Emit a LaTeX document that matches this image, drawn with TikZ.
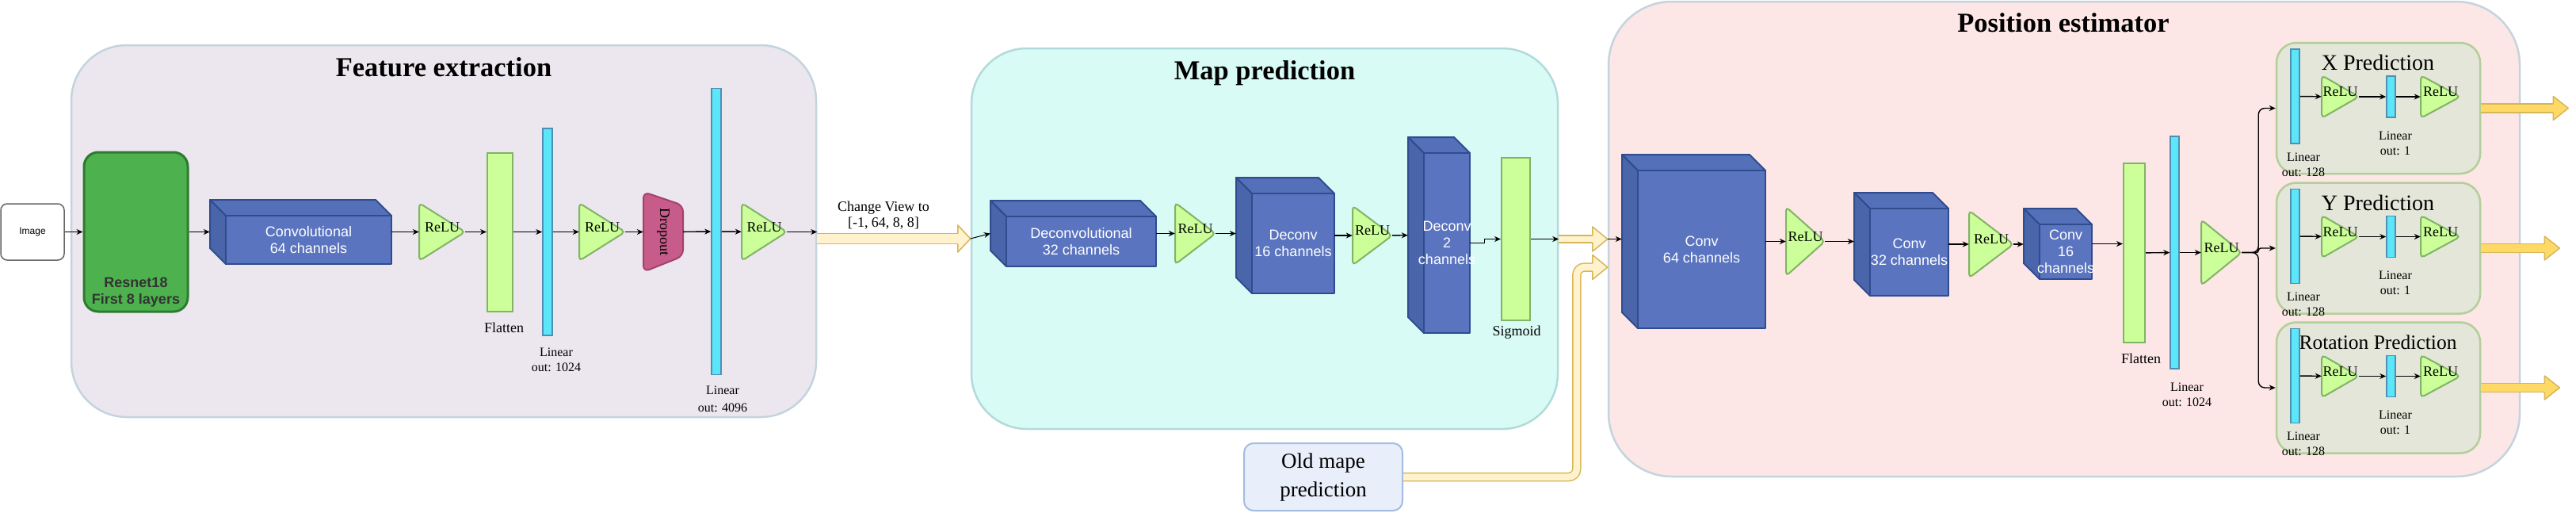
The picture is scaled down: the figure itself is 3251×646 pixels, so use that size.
\documentclass[tikz,border=0pt]{standalone}
\usepackage{fontspec}
\setmainfont{Liberation Serif}
\setsansfont{Liberation Sans}
\usetikzlibrary{arrows.meta,calc,fit}

\definecolor{featfill}{HTML}{ECE7EE}
\definecolor{mapfill}{HTML}{D9FBF5}
\definecolor{posfill}{HTML}{FDE6E6}
\definecolor{panelline}{HTML}{C4D4DE}
\definecolor{mapline}{HTML}{B3DADB}
\definecolor{cubefront}{HTML}{5A74BF}
\definecolor{cubetop}{HTML}{5470B8}
\definecolor{cubeside}{HTML}{4B65AB}
\definecolor{cubeline}{HTML}{2F4C8F}
\definecolor{relufill}{HTML}{CCFF99}
\definecolor{reluline}{HTML}{82B366}
\definecolor{linfill}{HTML}{5CE6FA}
\definecolor{linline}{HTML}{4F8FB3}
\definecolor{dropfill}{HTML}{C75C8A}
\definecolor{dropline}{HTML}{A3416E}
\definecolor{resfill}{HTML}{4DB24E}
\definecolor{resline}{HTML}{2D7A30}
\definecolor{reslabel}{HTML}{333333}
\definecolor{predfill}{HTML}{E4E6D9}
\definecolor{predline}{HTML}{B3CF99}
\definecolor{oldfill}{HTML}{E8EFFA}
\definecolor{oldline}{HTML}{A3BCDF}
\definecolor{fatpale}{HTML}{FFF2CC}
\definecolor{fatgold}{HTML}{FFD966}
\definecolor{fatline}{HTML}{D6B656}

\tikzset{
  panel/.style={draw=panelline, line width=2.5pt, rounded corners=70pt, inner sep=0pt},
  title/.style={font=\bfseries\fontsize{34.5}{40}\selectfont, anchor=base},
  arr/.style={-{Stealth[length=8pt,width=7pt]}, line width=1.4pt},
  cubeface/.style={draw=cubeline, line width=2pt, line join=round},
  cubetext/.style={font=\sffamily\fontsize{18}{21}\selectfont, text=white, align=center},
  reluface/.style={draw=reluline, fill=relufill, line width=2pt, rounded corners=5pt},
  relutext/.style={font=\fontsize{18}{20}\selectfont},
  lbl/.style={font=\fontsize{16}{19}\selectfont, align=center},
  biglbl/.style={font=\fontsize{18}{20}\selectfont, align=center},
  flatbar/.style={draw=reluline, fill=relufill, line width=2pt, inner sep=0pt},
  linbar/.style={draw=linline, fill=linfill, line width=1.5pt, inner sep=0pt},
  predbox/.style={draw=predline, fill=predfill, line width=2.5pt, rounded corners=25pt,
    minimum width=257pt, minimum height=165pt},
  fatshaft/.style={draw=fatline, double=#1, line width=1.5pt},
}

% cuboid layer: name, left, top, right, bottom, text
\newcommand{\convcube}[6]{%
  \filldraw[cubeface, fill=cubetop] (#2,#3) -- ({#4-20},#3) -- (#4,{#3+20}) -- ({#2+20},{#3+20}) -- cycle;
  \filldraw[cubeface, fill=cubeside] (#2,#3) -- ({#2+20},{#3+20}) -- ({#2+20},#5) -- (#2,{#5-20}) -- cycle;
  \filldraw[cubeface, fill=cubefront] ({#2+20},{#3+20}) rectangle (#4,#5);
  \node[inner sep=0pt, fit={(#2,#3) (#4,#5)}] (#1) {};
  \node[cubetext] at ({(#2+#4+20)/2},{(#3+#5+20)/2}) {#6};}

% relu: name, left x, centre y, width, half height
\newcommand{\relu}[5]{%
  \draw[reluface] (#2,{#3-#5}) -- ({#2+#4},#3) -- (#2,{#3+#5}) -- cycle;
  \node[relutext, inner sep=0pt, fit={(#2,{#3-#5}) ({#2+#4},{#3+#5})}] (#1) {ReLU};}

% wide arrow head: colour, tip, half width, length, shaft half width
\newcommand{\fathead}[5]{%
  \fill[#1] (#2) -- ++(-#4,-#3) -- ++(0,{2*#3}) -- cycle;
  \draw[fatline, line width=1.5pt, line join=round] ($(#2)+(-#4,-#5)$) -- ++(0,{#5-#3})
    -- (#2) -- ++(-#4,#3) -- ++(0,{#5-#3});}

% wide arrow: colour, start, tip, shaft half width, head half width, head length
\newcommand{\fatarrow}[6]{%
  \pgfmathsetmacro\fatdd{2*#4-1.5}
  \draw[fatshaft=#1, double distance=\fatdd pt] (#2) -- ($(#3)+({1-#6},0)$);
  \fathead{#1}{#3}{#5}{#6}{#4}}

\begin{document}
\begin{tikzpicture}[x=1pt,y=-1pt]
\useasboundingbox (0,0) rectangle (3251,646);

% panels
\node[panel, fill=featfill, fit={(90,57) (1030,526)}] (feat) {};
\node[panel, fill=mapfill, draw=mapline, fit={(1226,61) (1966,541)}] (mapp) {};
\node[panel, fill=posfill, rounded corners=80pt, fit={(2030,2) (3180,601)}] (pose) {};
\node[title] at (560,96) {Feature extraction};
\node[title] at (1596,100) {Map prediction};
\node[title] at (2604,40) {Position estimator};

% wide arrows between the panels
\coordinate (mapin) at (mapp.west |- 0,301);
\coordinate (posin1) at (pose.west |- 0,301.5);
\coordinate (posin2) at (pose.west |- 0,337);
\fatarrow{fatpale}{feat.east |- 0,301}{mapin}{6.5}{17}{16}
\fatarrow{fatpale}{mapp.east |- 0,301.5}{posin1}{4.5}{15.5}{19}
\node[draw=oldline, fill=oldfill, line width=2pt, rounded corners=12pt, minimum width=200pt,
  minimum height=85pt, font=\fontsize{27}{36}\selectfont, align=center] (oldmap) at (1670,601.5)
  {Old mape\\prediction};
\draw[fatshaft=fatpale, double distance=8.5pt, rounded corners=10pt]
  (oldmap.east) -| ($(posin2)+(-39,0)$) -- ($(posin2)+(-18,0)$);
\fathead{fatpale}{posin2}{15.5}{19}{5}
\node[biglbl] at (1115,272) {Change View to\\{}[-1, 64, 8, 8]};

% feature extraction
\node[draw=black!60, line width=1.5pt, rounded corners=8pt, minimum width=80pt, minimum height=71pt,
  font=\sffamily\fontsize{12}{14}\selectfont] (image) at (41,292.5) {Image};
\node[draw=resline, fill=resfill, line width=3pt, rounded corners=18pt, minimum width=131pt,
  minimum height=201pt] (resnet) at (171.5,292.5) {};
\node[font=\sffamily\bfseries\fontsize{18}{21}\selectfont, text=reslabel, align=center]
  at (171.5,368.5) {Resnet18\\First 8 layers};
\convcube{fconv}{265}{252}{494}{333}{Convolutional\\64 channels}
\relu{frelu1}{529}{292.5}{58}{36.5}
\node[flatbar, minimum width=32pt, minimum height=200pt] (fflat) at (631,292.5) {};
\node[biglbl] at (636,413) {Flatten};
\node[linbar, minimum width=12pt, minimum height=261pt] (flin1) at (691,292.5) {};
\node[lbl] at (702,454) {Linear\\out: 1024};
\relu{frelu2}{731}{292.5}{58}{36.5}
\filldraw[draw=dropline, fill=dropfill, line width=2pt, rounded corners=8pt]
  (812,242) -- (862,259) -- (862,323) -- (812,343) -- cycle;
\node[inner sep=0pt, fit={(812,242) (862,343)}] (drop) {};
\node[relutext, rotate=-90] at (drop) {Dropout};
\node[linbar, minimum width=12pt, minimum height=361pt] (flin2) at (904,292) {};
\node[lbl, font=\fontsize{16}{22}\selectfont] at (912,503) {Linear\\out: 4096};
\relu{frelu3}{936}{292.5}{57}{36.5}

\draw[arr] (image) -- (resnet);
\draw[arr] (resnet) -- (fconv);
\draw[arr] (fconv) -- (frelu1);
\draw[arr] (frelu1) -- (fflat);
\draw[arr] (fflat) -- (flin1);
\draw[arr] (flin1) -- (frelu2);
\draw[arr] (frelu2) -- (drop);
\draw[arr] (drop) -- (flin2);
\draw[arr] (flin2) -- (frelu3);
\draw[arr] (frelu3) -- (frelu3 -| feat.east);

% map prediction
\convcube{mdec1}{1250}{253}{1459}{336}{Deconvolutional\\32 channels}
\relu{mrelu1}{1483}{294.5}{51}{39}
\convcube{mdec2}{1560}{224}{1684}{370}{Deconv\\16 channels}
\relu{mrelu2}{1707}{297}{50}{37.5}
\convcube{mdec3}{1777}{173}{1855}{420}{Deconv\\2\\channels}
\node[flatbar, minimum width=36pt, minimum height=205pt] (sigm) at (1913,301.5) {};
\node[biglbl] at (1914,419) {Sigmoid};

\draw[arr, line width=1pt] (mapin) -- (mdec1.west);
\draw[arr] (mdec1) -- (mrelu1);
\draw[arr] (mrelu1.east) -- (mrelu1.east -| mdec2.west);
\draw[arr] (mdec2) -- (mrelu2);
\draw[arr] (mrelu2) -- (mdec3);
\draw[arr] ($(mdec3.east)+(0,10)$) -- ++(18,0) |- (sigm);
\draw[arr] (sigm) -- (sigm -| mapp.east);

% position estimator
\convcube{pconv1}{2047}{195}{2228}{414}{Conv\\64 channels}
\relu{prelu1}{2254}{304.5}{49}{43.5}
\convcube{pconv2}{2340}{243}{2459}{373}{Conv\\32 channels}
\relu{prelu2}{2485}{308}{56}{42.5}
\convcube{pconv3}{2554}{263}{2640}{352}{Conv\\16\\channels}
\node[flatbar, minimum width=27pt, minimum height=226pt] (pflat) at (2693.5,319) {};
\node[biglbl] at (2702,452) {Flatten};
\node[linbar, minimum width=11pt, minimum height=293pt] (plin) at (2744.5,318.5) {};
\node[lbl] at (2760,497.5) {Linear\\out: 1024};
\relu{prelu3}{2778}{318.5}{51}{41.5}

\draw[arr] (posin1) -- (posin1 -| pconv1.west);
\draw[arr] (pconv1) -- (prelu1);
\draw[arr] (prelu1.east) -- (prelu1.east -| pconv2.west);
\draw[arr] (pconv2) -- (prelu2);
\draw[arr] (prelu2.east) -- (prelu2.east -| pconv3.west);
\draw[arr] (pconv3.east) -- (pconv3.east -| pflat.west);
\draw[arr] (pflat) -- (plin);
\draw[arr] (plin) -- (prelu3);

% prediction heads
\foreach \nm/\dy/\ttl/\fs/\len in {x/0/X Prediction/28/110, y/176.5/Y Prediction/28/99,
    rot/352.5/Rotation Prediction/25.5/99}{
  \pgfmathsetmacro\cy{122+\dy}
  \node[predbox] (\nm-box) at (3001.5,{136.5+\dy}) {};
  \node[font=\fontsize{\fs}{\fs}\selectfont] at (3001,{79+\dy}) {\ttl};
  \node[linbar, minimum width=11pt, minimum height=119pt] (\nm-lin1) at (2896.5,{121.5+\dy}) {};
  \node[lbl] at (2907,{207.5+\dy}) {Linear\\out: 128};
  \relu{\nm-relu1}{2930}{\cy}{47}{27}
  \node[linbar, minimum width=11pt, minimum height=52pt] (\nm-lin2) at (3017.5,\cy) {};
  \node[lbl] at (3023,{180.5+\dy}) {Linear\\out: 1};
  \relu{\nm-relu2}{3055}{\cy}{50}{27}
  \draw[arr] (\nm-lin1) -- (\nm-relu1);
  \draw[arr] (\nm-relu1) -- (\nm-lin2);
  \draw[arr] (\nm-lin2) -- (\nm-relu2);
  \coordinate (\nm-out) at ($(\nm-box.east)+(\len,0)$);
  \fatarrow{fatgold}{\nm-box.east}{\nm-out}{5.5}{15}{19}
}
\draw[arr, rounded corners=8pt] (prelu3.east) -- ++(21,0) |- (x-box.west);
\draw[arr, rounded corners=3pt] (prelu3.east) -- ++(21,0) |- (y-box.west);
\draw[arr, rounded corners=8pt] (prelu3.east) -- ++(21,0) |- (rot-box.west);
\end{tikzpicture}
\end{document}
